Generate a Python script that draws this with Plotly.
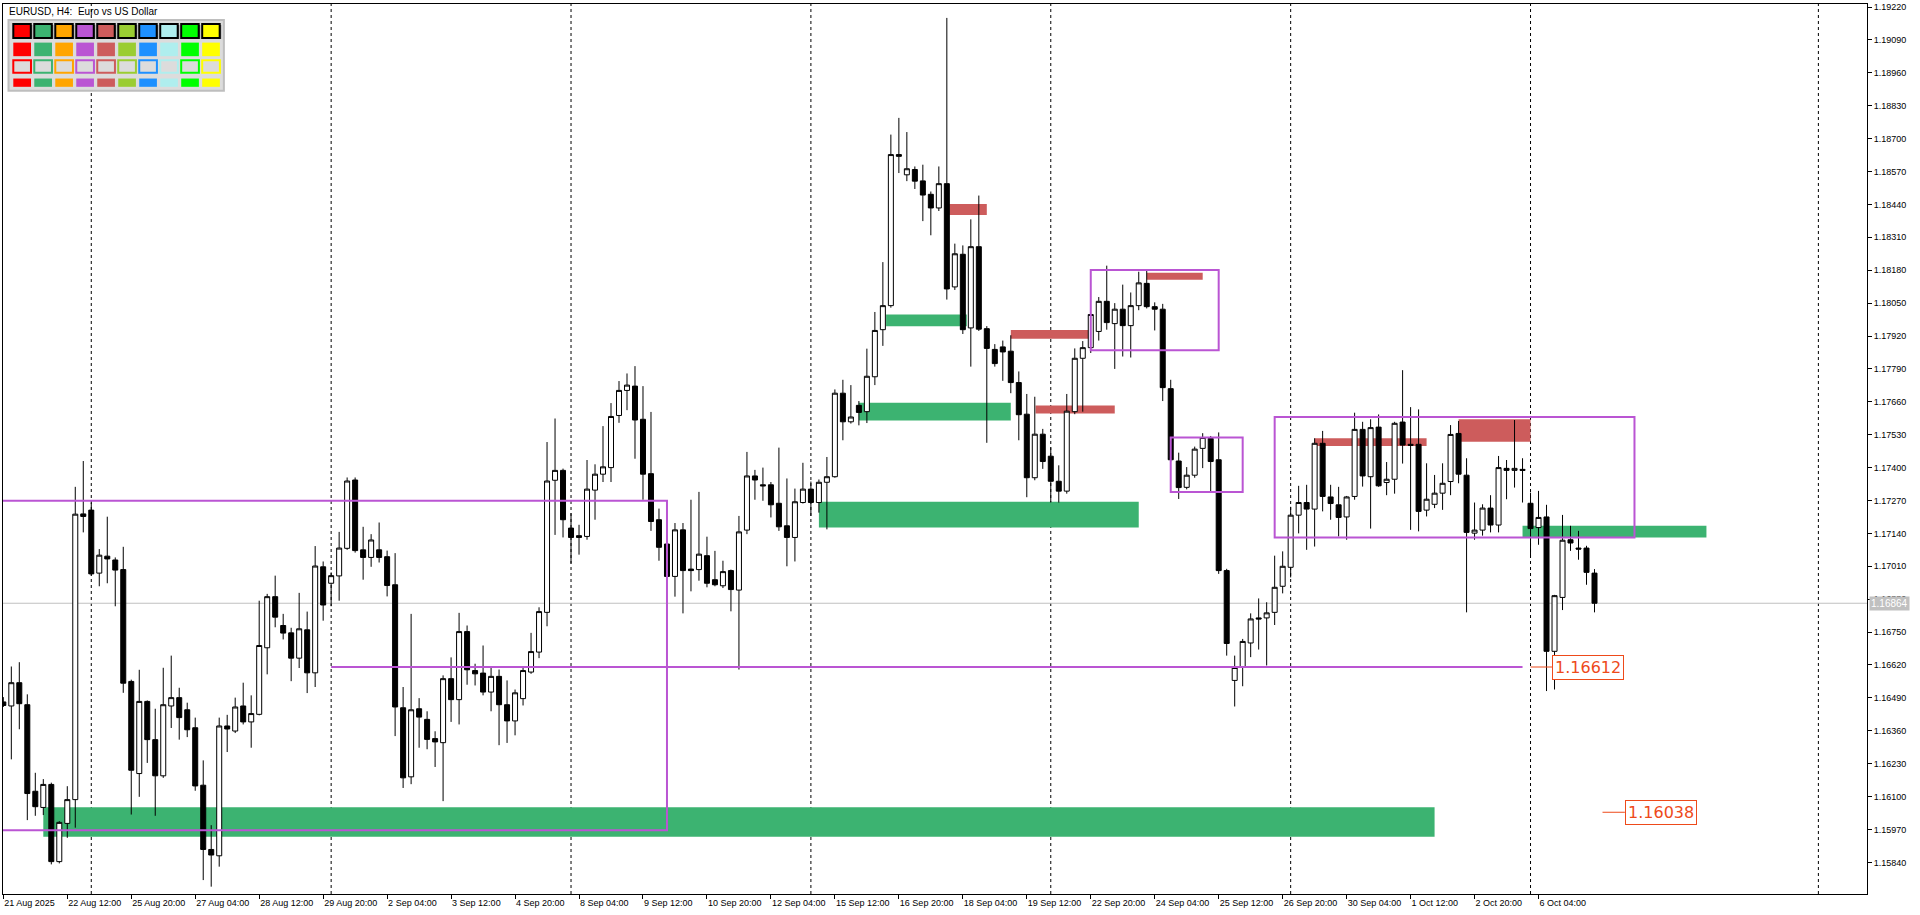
import plotly.graph_objects as go

chart_title = "EURUSD, H4:  Euro vs US Dollar"

opens = [1.16474, 1.16458, 1.16550, 1.16463, 1.16121, 1.16057, 1.16148, 1.15843, 1.15994, 1.16088,
         1.17217, 1.17232, 1.16983, 1.17050, 1.17035, 1.16997, 1.16555, 1.16191, 1.16476, 1.16325,
         1.16182, 1.16458, 1.16491, 1.16443, 1.16372, 1.16145, 1.15891, 1.15866, 1.16379, 1.16359,
         1.16458, 1.16395, 1.16425, 1.16688, 1.16890, 1.16776, 1.16747, 1.16647, 1.16759, 1.16589,
         1.17008, 1.16943, 1.16972, 1.17081, 1.17351, 1.17075, 1.17045, 1.17075, 1.17048, 1.16937,
         1.16451, 1.16178, 1.16447, 1.16405, 1.16329, 1.16313, 1.16566, 1.16483, 1.16752, 1.16598,
         1.16588, 1.16513, 1.16575, 1.16463, 1.16399, 1.16487, 1.16592, 1.16671, 1.16828, 1.17350,
         1.17389, 1.17161, 1.17131, 1.17128, 1.17311, 1.17374, 1.17400, 1.17606, 1.17705, 1.17722,
         1.17591, 1.17376, 1.17194, 1.17098, 1.16970, 1.17154, 1.16999, 1.16997, 1.17052, 1.16957,
         1.16933, 1.16993, 1.16916, 1.17153, 1.17367, 1.17332, 1.17332, 1.17259, 1.17170, 1.17124,
         1.17262, 1.17315, 1.17262, 1.17342, 1.17364, 1.17694, 1.17581, 1.17646, 1.17621, 1.17759,
         1.17945, 1.18040, 1.18637, 1.18557, 1.18578, 1.18533, 1.18480, 1.18426, 1.18522, 1.18114,
         1.18243, 1.17952, 1.18273, 1.17949, 1.17867, 1.17877, 1.17860, 1.17736, 1.17611, 1.17360,
         1.17532, 1.17445, 1.17346, 1.17307, 1.17621, 1.17832, 1.17874, 1.17938, 1.18057, 1.17969,
         1.18026, 1.17961, 1.18040, 1.18128, 1.18036, 1.18026, 1.17712, 1.17426, 1.17322, 1.17370,
         1.17476, 1.17515, 1.17431, 1.16993, 1.16559, 1.16611, 1.16707, 1.16806, 1.16806, 1.16828,
         1.16931, 1.17006, 1.17212, 1.17262, 1.17236, 1.17496, 1.17284, 1.17253, 1.17205, 1.17286,
         1.17551, 1.17364, 1.17560, 1.17341, 1.17354, 1.17580, 1.17492, 1.17492, 1.17232, 1.17255,
         1.17299, 1.17345, 1.17535, 1.17370, 1.17141, 1.17153, 1.17240, 1.17173, 1.17397, 1.17389,
         1.17393, 1.17259, 1.17163, 1.17205, 1.16674, 1.16887, 1.17115, 1.17082, 1.17082, 1.16983]

highs = [1.16493, 1.16614, 1.16631, 1.16504, 1.16194, 1.16169, 1.16155, 1.16003, 1.16141, 1.17324,
         1.17426, 1.17262, 1.17078, 1.17206, 1.17045, 1.17087, 1.16562, 1.16601, 1.16480, 1.16447,
         1.16609, 1.16657, 1.16530, 1.16471, 1.16412, 1.16243, 1.15987, 1.16412, 1.16423, 1.16491,
         1.16550, 1.16500, 1.16874, 1.16901, 1.16973, 1.16822, 1.16767, 1.16905, 1.16831, 1.17090,
         1.17029, 1.16986, 1.17146, 1.17361, 1.17361, 1.17166, 1.17137, 1.17183, 1.17072, 1.17062,
         1.16533, 1.16822, 1.16489, 1.16437, 1.16358, 1.16579, 1.16650, 1.16826, 1.16776, 1.16625,
         1.16697, 1.16611, 1.16602, 1.16559, 1.16523, 1.16611, 1.16747, 1.16848, 1.17501, 1.17594,
         1.17396, 1.17220, 1.17174, 1.17430, 1.17413, 1.17564, 1.17655, 1.17742, 1.17772, 1.17801,
         1.17722, 1.17620, 1.17238, 1.17104, 1.17181, 1.17181, 1.17273, 1.17304, 1.17127, 1.17071,
         1.17032, 1.16997, 1.17209, 1.17462, 1.17391, 1.17400, 1.17343, 1.17479, 1.17357, 1.17317,
         1.17419, 1.17345, 1.17353, 1.17442, 1.17709, 1.17747, 1.17726, 1.17663, 1.17870, 1.18015,
         1.18212, 1.18716, 1.18782, 1.18726, 1.18590, 1.18597, 1.18491, 1.18590, 1.19177, 1.18285,
         1.18278, 1.18381, 1.18475, 1.17959, 1.17888, 1.17902, 1.17923, 1.17780, 1.17691, 1.17680,
         1.17553, 1.17480, 1.17409, 1.17691, 1.17871, 1.17900, 1.18008, 1.18074, 1.18198, 1.18050,
         1.18123, 1.18092, 1.18174, 1.18177, 1.18053, 1.18047, 1.17747, 1.17459, 1.17402, 1.17483,
         1.17536, 1.17525, 1.17539, 1.17000, 1.16657, 1.16723, 1.16824, 1.16883, 1.16868, 1.17052,
         1.17069, 1.17245, 1.17328, 1.17332, 1.17516, 1.17545, 1.17332, 1.17324, 1.17288, 1.17617,
         1.17581, 1.17591, 1.17610, 1.17422, 1.17581, 1.17785, 1.17639, 1.17630, 1.17417, 1.17371,
         1.17417, 1.17568, 1.17584, 1.17437, 1.17262, 1.17255, 1.17291, 1.17446, 1.17430, 1.17588,
         1.17437, 1.17301, 1.17308, 1.17253, 1.16897, 1.17213, 1.17170, 1.17150, 1.17091, 1.16999]

lows = [1.16454, 1.16247, 1.16366, 1.16007, 1.16024, 1.16027, 1.15832, 1.15836, 1.15937, 1.15977,
        1.17144, 1.16973, 1.16931, 1.16943, 1.16852, 1.16510, 1.16029, 1.16099, 1.16233, 1.16024,
        1.16174, 1.16371, 1.16325, 1.16335, 1.16123, 1.15770, 1.15744, 1.15823, 1.16276, 1.16351,
        1.16385, 1.16293, 1.16421, 1.16583, 1.16769, 1.16721, 1.16556, 1.16608, 1.16509, 1.16533,
        1.16795, 1.16852, 1.16874, 1.17075, 1.17064, 1.16957, 1.17008, 1.17025, 1.16891, 1.16339,
        1.16134, 1.16149, 1.16293, 1.16287, 1.16217, 1.16082, 1.16395, 1.16385, 1.16542, 1.16539,
        1.16500, 1.16437, 1.16303, 1.16312, 1.16342, 1.16460, 1.16585, 1.16647, 1.16773, 1.17134,
        1.17124, 1.17021, 1.17056, 1.17115, 1.17194, 1.17343, 1.17343, 1.17577, 1.17627, 1.17435,
        1.17273, 1.17150, 1.17032, 1.16966, 1.16890, 1.16824, 1.16911, 1.16953, 1.16927, 1.16931,
        1.16924, 1.16832, 1.16602, 1.17137, 1.17273, 1.17269, 1.17203, 1.17150, 1.17010, 1.17029,
        1.17258, 1.17209, 1.17222, 1.17156, 1.17360, 1.17508, 1.17574, 1.17567, 1.17576, 1.17726,
        1.17881, 1.18032, 1.18564, 1.18532, 1.18501, 1.18374, 1.18318, 1.18414, 1.18064, 1.18102,
        1.17928, 1.17799, 1.17940, 1.17498, 1.17799, 1.17743, 1.17694, 1.17508, 1.17283, 1.17350,
        1.17395, 1.17262, 1.17262, 1.17297, 1.17611, 1.17621, 1.17853, 1.17902, 1.17945, 1.17790,
        1.17839, 1.17835, 1.18022, 1.18029, 1.17942, 1.17663, 1.17424, 1.17276, 1.17314, 1.17360,
        1.17398, 1.17307, 1.16980, 1.16657, 1.16456, 1.16536, 1.16651, 1.16681, 1.16618, 1.16778,
        1.16903, 1.16966, 1.17140, 1.17075, 1.17088, 1.17227, 1.17194, 1.17128, 1.17115, 1.17273,
        1.17325, 1.17159, 1.17324, 1.17291, 1.17297, 1.17416, 1.17154, 1.17148, 1.17207, 1.17240,
        1.17233, 1.17291, 1.17338, 1.16828, 1.17115, 1.17131, 1.17144, 1.17144, 1.17275, 1.17321,
        1.17262, 1.17045, 1.17095, 1.16517, 1.16523, 1.16837, 1.17071, 1.17036, 1.16937, 1.16828]

closes = [1.16460, 1.16550, 1.16467, 1.16112, 1.16060, 1.16148, 1.15843, 1.15998, 1.16088, 1.17216,
          1.17207, 1.16980, 1.17054, 1.17039, 1.16995, 1.16548, 1.16204, 1.16476, 1.16325, 1.16182,
          1.16463, 1.16491, 1.16412, 1.16364, 1.16142, 1.15891, 1.15869, 1.16379, 1.16367, 1.16454,
          1.16395, 1.16428, 1.16697, 1.16890, 1.16809, 1.16746, 1.16647, 1.16763, 1.16589, 1.17011,
          1.16857, 1.16973, 1.17082, 1.17347, 1.17072, 1.17045, 1.17114, 1.17045, 1.16934, 1.16454,
          1.16174, 1.16443, 1.16414, 1.16326, 1.16316, 1.16566, 1.16483, 1.16752, 1.16601, 1.16585,
          1.16513, 1.16575, 1.16463, 1.16399, 1.16510, 1.16598, 1.16673, 1.16831, 1.17347, 1.17389,
          1.17194, 1.17124, 1.17124, 1.17315, 1.17374, 1.17403, 1.17602, 1.17705, 1.17726, 1.17588,
          1.17374, 1.17187, 1.17085, 1.16970, 1.17154, 1.16993, 1.16993, 1.17058, 1.16943, 1.16937,
          1.16989, 1.16918, 1.17146, 1.17367, 1.17351, 1.17328, 1.17253, 1.17166, 1.17124, 1.17265,
          1.17315, 1.17262, 1.17342, 1.17364, 1.17694, 1.17581, 1.17600, 1.17618, 1.17761, 1.17942,
          1.18040, 1.18637, 1.18630, 1.18581, 1.18532, 1.18477, 1.18426, 1.18522, 1.18106, 1.18245,
          1.17945, 1.18273, 1.17947, 1.17871, 1.17811, 1.17857, 1.17736, 1.17609, 1.17360, 1.17532,
          1.17424, 1.17346, 1.17307, 1.17623, 1.17832, 1.17874, 1.18005, 1.18057, 1.17973, 1.18026,
          1.17961, 1.18040, 1.18130, 1.18036, 1.18026, 1.17716, 1.17431, 1.17321, 1.17370, 1.17473,
          1.17519, 1.17424, 1.16993, 1.16705, 1.16610, 1.16713, 1.16802, 1.16802, 1.16826, 1.16927,
          1.17010, 1.17212, 1.17262, 1.17236, 1.17496, 1.17286, 1.17258, 1.17203, 1.17284, 1.17551,
          1.17367, 1.17558, 1.17328, 1.17354, 1.17575, 1.17489, 1.17488, 1.17227, 1.17275, 1.17299,
          1.17338, 1.17531, 1.17374, 1.17144, 1.17153, 1.17240, 1.17173, 1.17400, 1.17389, 1.17397,
          1.17389, 1.17159, 1.17203, 1.16674, 1.16894, 1.17113, 1.17102, 1.17078, 1.16986, 1.16864]

x_tick_labels = ["21 Aug 2025", "22 Aug 12:00", "25 Aug 20:00", "27 Aug 04:00", "28 Aug 12:00",
                 "29 Aug 20:00", "2 Sep 04:00", "3 Sep 12:00", "4 Sep 20:00", "8 Sep 04:00",
                 "9 Sep 12:00", "10 Sep 20:00", "12 Sep 04:00", "15 Sep 12:00", "16 Sep 20:00",
                 "18 Sep 04:00", "19 Sep 12:00", "22 Sep 20:00", "24 Sep 04:00", "25 Sep 12:00",
                 "26 Sep 20:00", "30 Sep 04:00", "1 Oct 12:00", "2 Oct 20:00", "6 Oct 04:00"]
x_tick_bars = [0, 8, 16, 24, 32, 40, 48, 56, 64, 72, 80, 88, 96, 104, 112,
               120, 128, 136, 144, 152, 160, 168, 176, 184, 192]

price_ticks = [1.15840, 1.15970, 1.16100, 1.16230, 1.16360, 1.16490, 1.16620, 1.16750, 1.16880,
               1.17010, 1.17140, 1.17270, 1.17400, 1.17530, 1.17660, 1.17790, 1.17920, 1.18050,
               1.18180, 1.18310, 1.18440, 1.18570, 1.18700, 1.18830, 1.18960, 1.19090, 1.19220]

# zones: (start bar, end bar, low price, high price)
green_zones = [(5, 179, 1.15941, 1.16058), (102, 142, 1.17163, 1.17265), (107, 126, 1.17586, 1.17656),
               (110.4, 120.5, 1.17959, 1.18005), (190, 213, 1.17124, 1.17170)]
red_zones = [(118.3, 123, 1.18398, 1.18442), (126, 136, 1.17909, 1.17944), (129.1, 139, 1.17614, 1.17645),
             (143, 150, 1.18142, 1.18170), (164, 178, 1.17485, 1.17516), (182, 191, 1.17502, 1.17591)]
purple_boxes = [(-5, 83, 1.15967, 1.17269), (136, 152, 1.17864, 1.18181),
                (146, 155, 1.17304, 1.17519), (159, 204, 1.17124, 1.17600)]
purple_lines = [(41, 190, 1.16612)]
price_labels = [(191, 193.7, 1.16612, "1.16612"), (200, 202.8, 1.16038, "1.16038")]
week_separators = [11, 41, 71, 101, 131, 161, 191, 227]
current_price = 1.16864
palette = ["#FF0000", "#3CB371", "#FFA500", "#BA55D3", "#CD5C5C",
           "#9ACD32", "#1E90FF", "#AFEEEE", "#00FF00", "#FFFF00"]

W, H = 1920, 915
ML, MR, MT, MB = 2, 53, 2, 21
PW, PH = W - ML - MR, H - MT - MB


def px(xp):
    return (xp - ML) / PW


def py(yp):
    return (H - MB - yp) / PH


fig = go.Figure()
fig.add_trace(go.Candlestick(
    x=list(range(len(opens))), open=opens, high=highs, low=lows, close=closes,
    increasing=dict(fillcolor="#FFFFFF", line=dict(color="#000000", width=1)),
    decreasing=dict(fillcolor="#000000", line=dict(color="#000000", width=1)),
    whiskerwidth=0, hoverinfo="skip", showlegend=False))

shapes = []
for s in week_separators:
    shapes.append(dict(type="line", xref="x", yref="paper", x0=s, x1=s, y0=0, y1=1,
                       line=dict(color="#000000", width=1, dash="3px,3px"), layer="below"))
shapes.append(dict(type="line", xref="paper", yref="y", x0=0, x1=1, y0=current_price, y1=current_price,
                   line=dict(color="#C0C0C0", width=1), layer="below"))
for x0, x1, p0, p1 in green_zones:
    shapes.append(dict(type="rect", xref="x", yref="y", x0=x0, x1=x1, y0=p0, y1=p1,
                       fillcolor="#3CB371", line=dict(width=0), layer="below"))
for x0, x1, p0, p1 in red_zones:
    shapes.append(dict(type="rect", xref="x", yref="y", x0=x0, x1=x1, y0=p0, y1=p1,
                       fillcolor="#CD5C5C", line=dict(width=0), layer="below"))
for x0, x1, p0, p1 in purple_boxes:
    shapes.append(dict(type="rect", xref="x", yref="y", x0=x0, x1=x1, y0=p0, y1=p1,
                       fillcolor="rgba(0,0,0,0)", line=dict(color="#BA55D3", width=2), layer="above"))
for x0, x1, p in purple_lines:
    shapes.append(dict(type="line", xref="x", yref="y", x0=x0, x1=x1, y0=p, y1=p,
                       line=dict(color="#BA55D3", width=2), layer="above"))
annotations = []
for x0, x1, p, txt in price_labels:
    shapes.append(dict(type="line", xref="x", yref="y", x0=x0, x1=x1, y0=p, y1=p,
                       line=dict(color="#EE4A1A", width=1), layer="above"))
    annotations.append(dict(xref="x", yref="y", x=x1, y=p, text=txt, showarrow=False,
                            xanchor="left", yanchor="middle", bgcolor="#FFFFFF",
                            bordercolor="#EE4A1A", borderwidth=1, borderpad=2,
                            font=dict(family="DejaVu Sans", size=16, color="#EE4A1A")))

# colour palette panel (top-left)
shapes.append(dict(type="rect", xref="paper", yref="paper", x0=px(7.5), x1=px(223), y0=py(18), y1=py(89),
                   fillcolor="#DCDCDC", line=dict(color="#BEBEBE", width=2), layer="above"))
for i, c in enumerate(palette):
    xl = 12.3 + 21 * i
    shapes.append(dict(type="rect", xref="paper", yref="paper", x0=px(xl + 1), x1=px(xl + 19),
                       y0=py(23), y1=py(37), fillcolor="#606060", line=dict(width=0), layer="above"))
    shapes.append(dict(type="rect", xref="paper", yref="paper", x0=px(xl), x1=px(xl + 17.5),
                       y0=py(22), y1=py(36), fillcolor=c, line=dict(color="#000000", width=2), layer="above"))
    shapes.append(dict(type="rect", xref="paper", yref="paper", x0=px(xl), x1=px(xl + 17.7),
                       y0=py(40.7), y1=py(54.3), fillcolor=c, line=dict(width=0), layer="above"))
    shapes.append(dict(type="rect", xref="paper", yref="paper", x0=px(xl), x1=px(xl + 17.7),
                       y0=py(58.5), y1=py(71), fillcolor="#DCDCDC", line=dict(color=c, width=2), layer="above"))
    shapes.append(dict(type="rect", xref="paper", yref="paper", x0=px(xl), x1=px(xl + 17.7),
                       y0=py(76.7), y1=py(85), fillcolor=c, line=dict(width=0), layer="above"))

annotations.append(dict(xref="paper", yref="paper", x=px(6), y=py(10), text=chart_title, showarrow=False,
                        xanchor="left", yanchor="middle",
                        font=dict(family="Liberation Sans", size=10, color="#000000")))
annotations.append(dict(xref="paper", yref="y", x=1, y=current_price, xshift=2, text="1.16864",
                        showarrow=False, xanchor="left", yanchor="middle", bgcolor="#C0C0C0",
                        borderpad=1, font=dict(family="Liberation Sans", size=10, color="#FFFFFF")))

fig.update_layout(
    width=W, height=H, margin=dict(l=ML, r=MR, t=MT, b=MB, pad=0),
    paper_bgcolor="#FFFFFF", plot_bgcolor="#FFFFFF",
    showlegend=False, boxgap=0.375, boxgroupgap=0,
    shapes=shapes, annotations=annotations,
    font=dict(family="Liberation Sans", size=9, color="#000000"),
    xaxis=dict(range=[-0.04, 233.08], rangeslider=dict(visible=False), showgrid=False, zeroline=False,
               tickmode="array", tickvals=x_tick_bars, ticktext=x_tick_labels,
               ticks="outside", ticklen=4, tickcolor="#000000", ticklabelposition="outside right",
               showline=True, linecolor="#000000", linewidth=1, mirror=True,
               tickfont=dict(family="Liberation Sans", size=9, color="#000000")),
    yaxis=dict(range=[1.15715, 1.19232], side="right", showgrid=False, zeroline=False,
               tickmode="array", tickvals=price_ticks, ticktext=["%.5f" % v for v in price_ticks],
               ticks="outside", ticklen=4, tickcolor="#000000",
               showline=True, linecolor="#000000", linewidth=1, mirror=True,
               tickfont=dict(family="Liberation Sans", size=9, color="#000000")),
)

fig.write_html("out.html", config={"displayModeBar": False},
               post_script="document.body.style.margin='0px';document.body.style.overflow='hidden';")
